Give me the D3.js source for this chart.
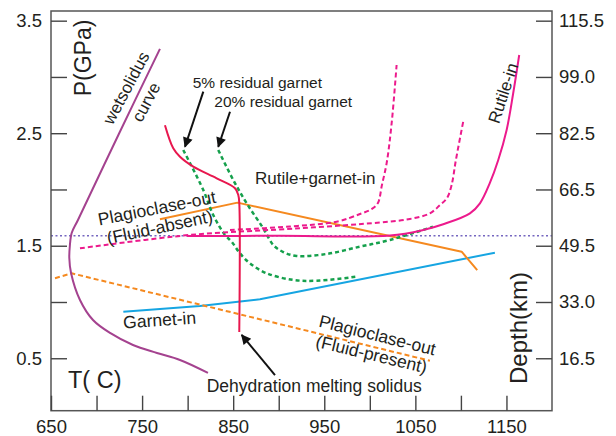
<!DOCTYPE html>
<html><head><meta charset="utf-8">
<script src="https://cdn.jsdelivr.net/npm/d3@7/dist/d3.min.js"></script>
<style>
body{margin:0;background:#fff;}
text{font-family:"Liberation Sans",Arial,Helvetica,sans-serif;fill:#231f20;}
</style></head><body>
<svg id="chart" width="616" height="436"></svg>
<script>
// ---------- data (T in °C, P in GPa) ----------
const tempExtent = [650, 1200];
const pressureExtent = [0.034, 3.586];
const tempTicks = [650,700,750,800,850,900,950,1000,1050,1100,1150];
const tempLabels = [650,750,850,950,1050,1150];
const pressureTicks = [0.5,1.0,1.5,2.0,2.5,3.0,3.5];
const pressureLabels = [0.5,1.5,2.5,3.5];
const depthLabels = ["16.5","33.0","49.5","66.5","82.5","99.0","115.5"];

const wetSolidus = [[769.6,3.249],[725,2.502],[679.6,1.729],[672.7,1.613],[670.7,1.50],[670.1,1.391],[672,1.258],[681.8,1.018],[696.1,0.840],[714.8,0.725],[740,0.618],[766.3,0.547],[791.6,0.485],[822.3,0.37]];
const dehydrationSolidus = [[775.1,2.571],[784.2,2.366],[791.6,2.291],[806.2,2.203],[831.9,2.099],[852.0,2.011],[855.6,1.951],[856.7,1.877],[856.7,0.733]];
const rutileIn = [[799.3,1.587],[900,1.588],[1022.1,1.591],[1058.6,1.640],[1080.6,1.691],[1109.9,1.788],[1120.9,1.877],[1131.8,2.058],[1141,2.262],[1150.2,2.529],[1157.4,2.855],[1164,3.195]];
const rutileGarnetA = [[846.5,1.640],[912.3,1.671],[963.6,1.714],[989.2,1.782],[1002.3,1.827],[1008.9,1.880],[1013.3,2.040],[1018.5,2.235],[1024.0,2.591],[1029.4,3.106]];
const rutileGarnetB = [[681.8,1.477],[802.6,1.596],[923.3,1.655],[1011.1,1.707],[1044.0,1.738],[1066.0,1.788],[1077.0,1.862],[1084.7,1.924],[1089.8,2.040],[1094.5,2.262],[1102.5,2.602]];
const garnet5 = [[795.2,2.351],[817.2,1.995],[828.1,1.773],[841.0,1.596],[848.3,1.536],[857.4,1.433],[868.4,1.344],[886.8,1.255],[915.9,1.196],[941.6,1.189],[985.5,1.225]];
const garnet20 = [[833.6,2.351],[850.1,2.084],[864.8,1.877],[883.0,1.655],[894.0,1.507],[905.0,1.444],[919.7,1.409],[952.6,1.427],[989.2,1.492],[1022.1,1.551],[1069.3,1.669]];
const plagOutAbsent = [[769.6,1.735],[854.7,1.883],[1100.8,1.447],[1117.9,1.284]];
const plagOutPresent = [[654.4,1.211],[672.7,1.255],[1066.0,0.478]];
const garnetIn = [[729.4,0.914],[813.5,0.965],[879.4,1.024],[1137.3,1.438]];
const referenceLine = [[650,1.589],[1200,1.589]];

const arrows = [
  {from:[817.2,2.869], to:[797.1,2.380]},
  {from:[846.5,2.691], to:[833.6,2.380]},
  {from:[895.9,0.351], to:[859.3,0.707]}
];

// ---------- drawing ----------
const svg = d3.select("#chart");
const x = d3.scaleLinear().domain(tempExtent).range([51, 552]);
const y = d3.scaleLinear().domain(pressureExtent).range([410.7, 11]);

const defs = svg.append("defs");
defs.append("marker").attr("id","arrow").attr("viewBox","0 0 10 10")
  .attr("refX",9).attr("refY",5).attr("markerWidth",14).attr("markerHeight",10)
  .attr("markerUnits","userSpaceOnUse").attr("orient","auto")
  .append("path").attr("d","M0,0L10,5L0,10z").attr("fill","#111");

const smooth = d3.line().x(d=>x(d[0])).y(d=>y(d[1])).curve(d3.curveCatmullRom.alpha(0.5));
const straight = d3.line().x(d=>x(d[0])).y(d=>y(d[1]));

function draw(data, gen, color, width, dash){
  svg.append("path").datum(data).attr("d", gen).attr("fill","none")
    .attr("stroke", color).attr("stroke-width", width)
    .attr("stroke-dasharray", dash || null).attr("stroke-linejoin","round");
}

draw(referenceLine, straight, "#7566c0", 1.6, "2,2.5");
draw(garnetIn, straight, "#16a5e2", 2);
draw(plagOutPresent, straight, "#f5891f", 2, "5,3");
draw(plagOutAbsent, straight, "#f5891f", 2);
draw(garnet5, smooth, "#15a04c", 2.5, "4,3");
draw(garnet20, smooth, "#15a04c", 2.5, "4,3");
draw(rutileGarnetB, smooth, "#ec1a8c", 2, "5,3");
draw(rutileGarnetA, smooth, "#ec1a8c", 2, "5,3");
draw(rutileIn, smooth, "#ec1a8c", 2);
draw(wetSolidus, smooth, "#a4428f", 2);
draw(dehydrationSolidus, smooth, "#e8174e", 2);

arrows.forEach(a=>{
  svg.append("line").attr("x1",x(a.from[0])).attr("y1",y(a.from[1]))
    .attr("x2",x(a.to[0])).attr("y2",y(a.to[1]))
    .attr("stroke","#111").attr("stroke-width",2).attr("marker-end","url(#arrow)");
});

// frame
svg.append("rect").attr("x",x(tempExtent[0])).attr("y",y(pressureExtent[1]))
  .attr("width",x(tempExtent[1])-x(tempExtent[0])).attr("height",y(pressureExtent[0])-y(pressureExtent[1]))
  .attr("fill","none").attr("stroke","#555").attr("stroke-width",1.5);

// axes
const axisStyle = g => {
  g.select(".domain").remove();
  g.selectAll(".tick line").attr("stroke","#444").attr("stroke-width",1.4);
  g.selectAll(".tick text").attr("font-size","18.5px").attr("fill","#231f20")
    .attr("font-family",'"Liberation Sans",Arial,sans-serif');
};
svg.append("g").attr("transform",`translate(${x(tempExtent[0])},0)`)
  .call(d3.axisLeft(y).tickValues(pressureTicks).tickSize(-16).tickPadding(9)
    .tickFormat(d => pressureLabels.includes(d) ? d.toFixed(1) : ""))
  .call(axisStyle);
svg.append("g").attr("transform",`translate(${x(tempExtent[1])},0)`)
  .call(d3.axisRight(y).tickValues(pressureTicks).tickSize(-16).tickPadding(7)
    .tickFormat((d,i) => depthLabels[i]))
  .call(axisStyle);
svg.append("g").attr("transform",`translate(0,${y(pressureExtent[0])})`)
  .call(d3.axisBottom(x).tickValues(tempTicks).tickSize(-15).tickPadding(9.5)
    .tickFormat(d => tempLabels.includes(d) ? d : ""))
  .call(axisStyle);

// axis titles
svg.append("text").attr("transform","translate(90.5,58) rotate(-90)")
  .attr("text-anchor","middle").attr("font-size","23px").text("P(GPa)");
svg.append("text").attr("transform","translate(527,328) rotate(-90)")
  .attr("text-anchor","middle").attr("font-size","24px").text("Depth(km)");
svg.append("text").attr("x",68).attr("y",388).attr("font-size","23.5px").text("T( C)");

// annotations
function label(txt, px, py, size, angle, anchor, centered){
  svg.append("text").attr("transform",`translate(${px},${py}) rotate(${angle||0})`)
    .attr("text-anchor", anchor || "middle").attr("font-size", size + "px")
    .attr("dy", centered ? "0.35em" : null).text(txt);
}
label("5% residual garnet", 192.7, 88.3, 15.5, 0, "start");
label("20% residual garnet", 214.3, 107.3, 15.5, 0, "start");
label("Rutile+garnet-in", 255, 184, 17, 0, "start");
label("wetsolidus", 126, 88, 17, -62, "middle", true);
label("curve", 146, 102, 17, -62, "middle", true);
label("Rutile-in", 503, 93, 17, -72, "middle", true);
label("Plagioclase-out", 158, 214, 17.5, -11);
label("(Fluid-absent)", 161, 233, 17.5, -12);
label("Garnet-in", 160, 326, 17.5, -4);
label("Plagioclase-out", 376, 341, 17.5, 14);
label("(Fluid-present)", 370, 360, 17.5, 13.5);
label("Dehydration melting solidus", 206.7, 391.7, 17.5, 0, "start");
</script>
</body></html>
